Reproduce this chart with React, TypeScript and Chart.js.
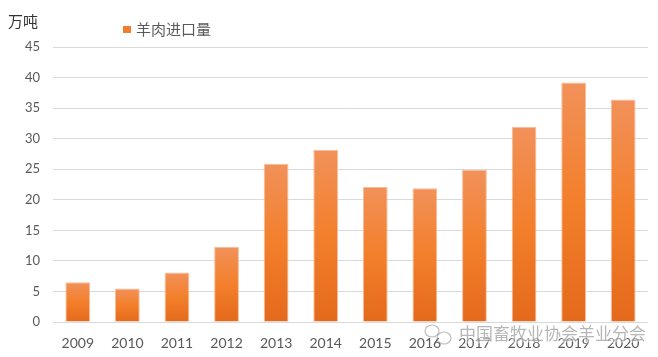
import React, { useEffect, useRef } from "react";
import { Chart, registerables } from "chart.js";

Chart.register(...registerables);

const categories = ["2009", "2010", "2011", "2012", "2013", "2014", "2015", "2016", "2017", "2018", "2019", "2020"];
const importValues = [6.5, 5.5, 8.1, 12.3, 25.9, 28.2, 22.1, 21.9, 24.9, 31.9, 39.2, 36.4];
const seriesName = "羊肉进口量";
const unitLabel = "万吨";
const watermark = "中国畜牧业协会羊业分会";
const yTicksMax = 45;
const yTickStep = 5;

const FONT = "'Lato', 'Noto Sans CJK SC', sans-serif";
const CJK = "'Noto Sans CJK SC', sans-serif";

const overlayPlugin = {
  id: "overlay",
  afterDraw(chart: any) {
    const ctx = chart.ctx;
    ctx.save();
    // unit label
    ctx.fillStyle = "#333333";
    ctx.font = `15px ${CJK}`;
    ctx.textBaseline = "middle";
    ctx.textAlign = "left";
    ctx.fillText(unitLabel, 8, 21.5);
    // legend
    const ds = chart.data.datasets[0];
    ctx.fillStyle = "#F07E2C";
    ctx.fillRect(123, 26, 8, 7);
    ctx.fillStyle = "#595959";
    ctx.font = `15px ${CJK}`;
    ctx.fillText(ds.label, 136, 29);
    // watermark
    ctx.globalAlpha = 0.55;
    ctx.strokeStyle = "#888888";
    ctx.lineWidth = 1.2;
    ctx.beginPath();
    ctx.ellipse(432, 331, 7, 6, 0, 0, Math.PI * 2);
    ctx.stroke();
    ctx.beginPath();
    ctx.ellipse(444, 338, 7, 6, 0, 0, Math.PI * 2);
    ctx.stroke();
    ctx.font = `17px ${CJK}`;
    ctx.lineWidth = 3;
    ctx.strokeStyle = "rgba(255,255,255,0.9)";
    ctx.strokeText(watermark, 459, 334);
    ctx.fillStyle = "#7a7a7a";
    ctx.fillText(watermark, 459, 334);
    ctx.restore();
  },
};

export default function App() {
  const ref = useRef<HTMLCanvasElement | null>(null);
  useEffect(() => {
    document.body.style.margin = "0";
    const canvas = ref.current!;
    const chart = new Chart(canvas, {
      type: "bar",
      data: {
        labels: categories,
        datasets: [
          {
            label: seriesName,
            data: importValues,
            backgroundColor: (c: any) => {
              const ch = c.chart;
              const y = ch.scales?.y;
              if (!y || c.raw == null) return "#F07E2C";
              const top = y.getPixelForValue(c.raw);
              const base = y.getPixelForValue(0);
              if (!isFinite(top) || !isFinite(base) || top === base) return "#F07E2C";
              const g = ch.ctx.createLinearGradient(0, top, 0, base);
              g.addColorStop(0, "#F1915A");
              g.addColorStop(0.5, "#F37F2B");
              g.addColorStop(1, "#E4691C");
              return g;
            },
            borderColor: "#F8BE98",
            borderWidth: { top: 1, left: 1, right: 1, bottom: 0 },
            barPercentage: 1,
            categoryPercentage: 0.5,
          },
        ],
      },
      options: {
        responsive: false,
        animation: false,
        layout: { padding: { top: 47, left: 8, right: 10, bottom: 0 } },
        plugins: { legend: { display: false }, tooltip: { enabled: false } },
        scales: {
          x: {
            grid: { display: false, drawTicks: false },
            border: { display: false },
            ticks: { color: "#595959", font: { family: FONT, size: 14 }, padding: 13, maxRotation: 0 },
            afterFit: (s: any) => {
              s.height = 35;
            },
          },
          y: {
            min: 0,
            max: yTicksMax,
            grid: { color: "#D9D9D9", lineWidth: 1, drawTicks: false },
            border: { display: false },
            ticks: { stepSize: yTickStep, color: "#595959", font: { family: FONT, size: 13 }, padding: 13 },
            afterFit: (s: any) => {
              s.width = 45;
            },
          },
        },
      },
      plugins: [overlayPlugin],
    });
    return () => chart.destroy();
  }, []);
  return <canvas ref={ref} width={658} height={357} style={{ display: "block" }} />;
}
